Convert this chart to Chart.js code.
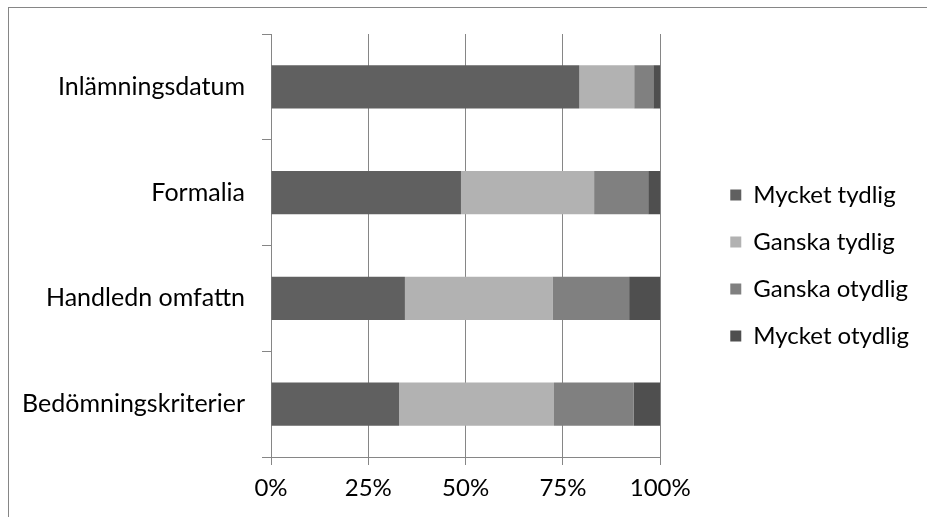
<!DOCTYPE html>
<html>
<head>
<meta charset="utf-8">
<script src="https://cdn.jsdelivr.net/npm/chart.js@4"></script>
<style>
  html, body { margin: 0; padding: 0; background: #fff; }
  #wrap { position: relative; width: 927px; height: 517px; overflow: hidden; }
  #frame { position: absolute; left: 8px; top: 7px; width: 940px; height: 540px;
           border-top: 1px solid #868686; border-left: 1px solid #868686; }
  #c { position: absolute; left: 0; top: 0; }
</style>
</head>
<body>
<div id="wrap">
  <div id="frame"></div>
  <canvas id="c" width="927" height="517"></canvas>
</div>
<script>
// ─── Data ────────────────────────────────────────────────────────────────────
const categories = ['Inlämningsdatum', 'Formalia', 'Handledn omfattn', 'Bedömningskriterier'];
const seriesNames = ['Mycket tydlig', 'Ganska tydlig', 'Ganska otydlig', 'Mycket otydlig'];
const mycketTydlig  = [79.2, 48.8, 34.4, 32.9];
const ganskaTydlig  = [14.1, 34.2, 37.9, 39.8];
const ganskaOtydlig = [ 4.9, 13.9, 19.7, 20.5];
const mycketOtydlig = [ 1.8,  3.1,  8.0,  6.8];
const xTicks = [0, 25, 50, 75, 100];

const colors = ['#606060', '#b2b2b2', '#808080', '#4f4f4f'];
const values = [mycketTydlig, ganskaTydlig, ganskaOtydlig, mycketOtydlig];
const FONT = 'Lato';
const FSIZE = 24;
const GRID = '#868686';

// legend sits further right than Chart.js would put it
const legendShift = {
  id: 'legendShift',
  afterLayout(chart) {
    const lg = chart.legend;
    const dx = 47, dy = -10;
    lg.left += dx; lg.right += dx;
    lg.top += dy; lg.bottom += dy;
  }
};

new Chart(document.getElementById('c'), {
  type: 'bar',
  data: {
    labels: categories,
    datasets: seriesNames.map((name, i) => ({
      label: name,
      data: values[i],
      backgroundColor: colors[i],
      borderWidth: 0,
      categoryPercentage: 1,
      barPercentage: 0.41
    }))
  },
  options: {
    indexAxis: 'y',
    responsive: false,
    animation: false,
    layout: { padding: { top: 34, right: 55, bottom: 0, left: 0 } },
    plugins: {
      tooltip: { enabled: false },
      legend: {
        position: 'right',
        labels: { color: '#000', font: { family: FONT, size: FSIZE }, boxWidth: 11, boxHeight: 11, padding: 23 }
      }
    },
    scales: {
      x: {
        stacked: true, min: 0, max: 100,
        afterBuildTicks: s => { s.ticks = xTicks.map(v => ({ value: v })); },
        afterFit: s => { s.height = 60; },
        ticks: { color: '#000', font: { family: FONT, size: FSIZE }, padding: 9, callback: v => v + '%' },
        grid: { color: GRID, lineWidth: 1, tickLength: 8 },
        border: { color: GRID, width: 1 }
      },
      y: {
        stacked: true,
        afterFit: s => { s.width = 271; },
        ticks: { color: '#000', font: { family: FONT, size: 25 }, padding: 17 },
        grid: { color: GRID, lineWidth: 1, tickLength: 9, drawOnChartArea: false, offset: true },
        border: { color: GRID, width: 1 }
      }
    }
  },
  plugins: [legendShift]
});
</script>
</body>
</html>
